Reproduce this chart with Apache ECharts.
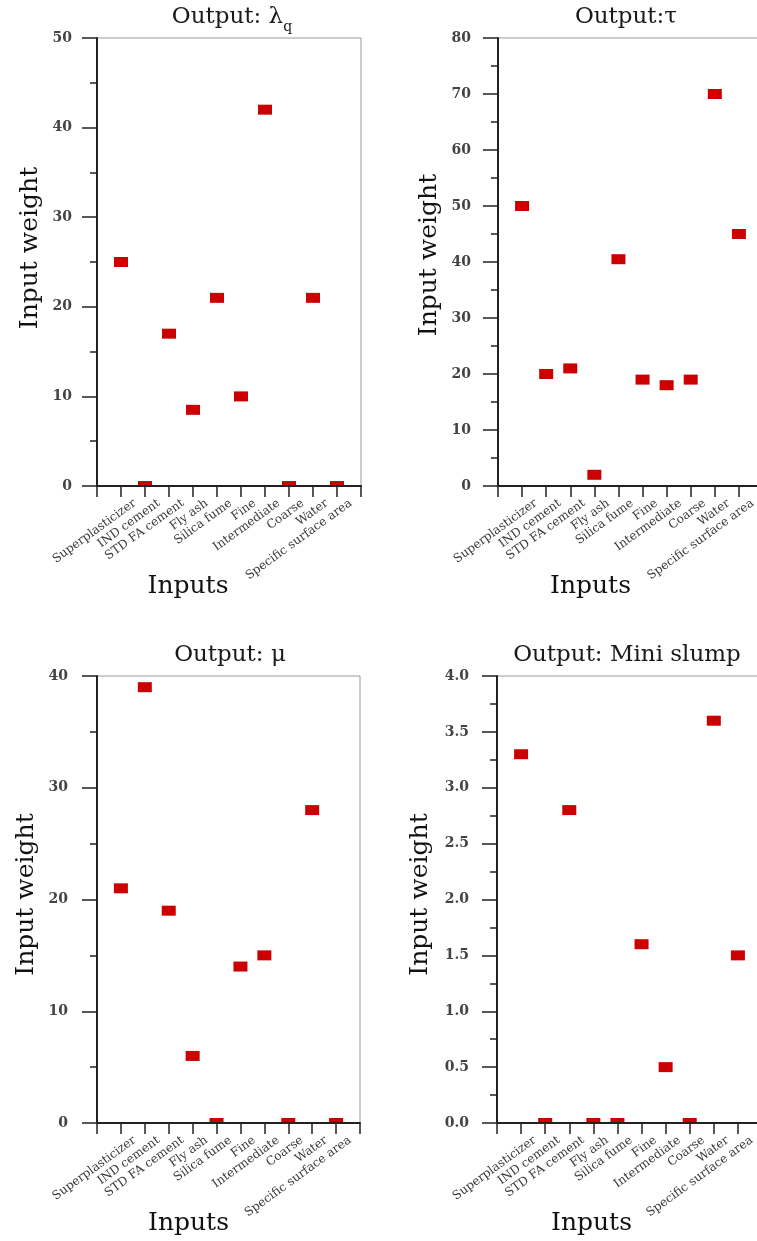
<!DOCTYPE html>
<html>
<head>
<meta charset="utf-8">
<script src="https://cdn.jsdelivr.net/npm/echarts@6/dist/echarts.min.js"></script>
<style>
  html, body { margin: 0; padding: 0; background: #fff; }
  #chart { width: 757px; height: 1241px; }
</style>
</head>
<body>
<div id="chart"></div>
<script>
// ---- Data ----
const inputs = ['Superplasticizer', 'IND cement', 'STD FA cement', 'Fly ash', 'Silica fume',
  'Fine', 'Intermediate', 'Coarse', 'Water', 'Specific surface area'];
const lambdaQ = [25, 0, 17, 8.5, 21, 10, 42, 0, 21, 0];
const tau = [50, 20, 21, 2, 40.5, 19, 18, 19, 70, 45];
const mu = [21, 39, 19, 6, 0, 14, 15, 0, 28, 0];
const miniSlump = [3.3, 0, 2.8, 0, 0, 1.6, 0.5, 0, 3.6, 1.5];

const titles = ['Output: λ{q|q}', 'Output:τ', 'Output: μ', 'Output: Mini slump'];
const yMax = [50, 80, 40, 4];
const yStep = [10, 10, 10, 0.5];
const yDecimals = [0, 0, 0, 1];
const seriesData = [lambdaQ, tau, mu, miniSlump];

// ---- Layout (pixels) ----
const grids = [
  { left: 97, top: 38, width: 264, height: 448 },
  { left: 498, top: 38, width: 265, height: 448 },
  { left: 97, top: 676, width: 263, height: 447 },
  { left: 497, top: 676, width: 265, height: 447 }
];
const titleCenter = [[232, 0], [626, 0], [230, 638], [627, 638]];
const yLabelMargin = [25, 27, 29, 28];
const yNameGap = [54, 56, 58, 64];
const yNameShift = [28, 14, 10, 10];
const xNameShift = [82, 80, 80, 76];

const FONT = 'DejaVu Serif';
const RED = '#cc0000';

const option = {
  animation: false,
  backgroundColor: '#fff',
  title: titles.map((t, i) => ({
    text: t,
    left: titleCenter[i][0],
    top: titleCenter[i][1],
    textAlign: 'center',
    padding: 0,
    textStyle: {
      fontFamily: FONT, fontSize: 23, fontWeight: 'normal', color: '#1a1a1a',
      lineHeight: 34,
      rich: {
        q: { fontFamily: FONT, fontSize: 14, lineHeight: 14, verticalAlign: 'bottom', color: '#1a1a1a' }
      }
    }
  })),
  grid: grids.map(g => Object.assign({
    show: true, borderColor: '#9a9a9a', borderWidth: 1, backgroundColor: 'transparent',
    containLabel: false, outerBoundsMode: 'none'
  }, g)),
  xAxis: grids.map((g, i) => ({
    type: 'value',
    gridIndex: i,
    min: 0, max: 11, interval: 1,
    z: 5,
    name: 'Inputs',
    nameLocation: 'middle',
    nameGap: 88,
    nameMoveOverlap: false,
    nameTextStyle: { fontFamily: FONT, fontSize: 25, color: '#111', padding: [0, xNameShift[i], 0, 0] },
    axisLine: { show: true, lineStyle: { color: '#222', width: 2 } },
    axisTick: { show: true, inside: false, length: 11, lineStyle: { color: '#222', width: 1.5 } },
    splitLine: { show: false },
    axisLabel: {
      rotate: 36,
      margin: 26,
      padding: [0, -17, 0, 0],
      fontFamily: FONT, fontSize: 12, color: '#3a3a3a',
      formatter: v => {
        const k = Math.round(v);
        return (k >= 1 && k <= inputs.length) ? inputs[k - 1] : '';
      }
    }
  })),
  yAxis: grids.map((g, i) => ({
    type: 'value',
    gridIndex: i,
    min: 0, max: yMax[i], interval: yStep[i],
    z: 5,
    name: 'Input weight',
    nameLocation: 'middle',
    nameGap: yNameGap[i],
    nameMoveOverlap: false,
    nameTextStyle: { fontFamily: FONT, fontSize: 25, color: '#111', padding: [0, 0, 0, yNameShift[i]] },
    axisLine: { show: true, lineStyle: { color: '#222', width: 2 } },
    axisTick: { show: true, inside: false, length: 15, lineStyle: { color: '#222', width: 1.5 } },
    minorTick: { show: true, splitNumber: 2, length: 7, lineStyle: { color: '#222', width: 1.5 } },
    splitLine: { show: false },
    minorSplitLine: { show: false },
    axisLabel: {
      margin: yLabelMargin[i],
      fontFamily: FONT, fontSize: 14, fontWeight: 'bold', color: '#444',
      formatter: v => Number(v).toFixed(yDecimals[i])
    }
  })),
  series: seriesData.map((vals, i) => ({
    type: 'custom',
    xAxisIndex: i,
    yAxisIndex: i,
    clip: true,
    z: 3,
    encode: { x: 0, y: 1 },
    data: vals.map((v, k) => [k + 1, v]),
    renderItem: (params, api) => {
      const p = api.coord([api.value(0), api.value(1)]);
      return {
        type: 'rect',
        shape: { x: p[0] - 7, y: p[1] - 5, width: 14, height: 10 },
        style: { fill: RED }
      };
    }
  }))
};

const chart = echarts.init(document.getElementById('chart'), null, { renderer: 'canvas' });
chart.setOption(option);
</script>
</body>
</html>
